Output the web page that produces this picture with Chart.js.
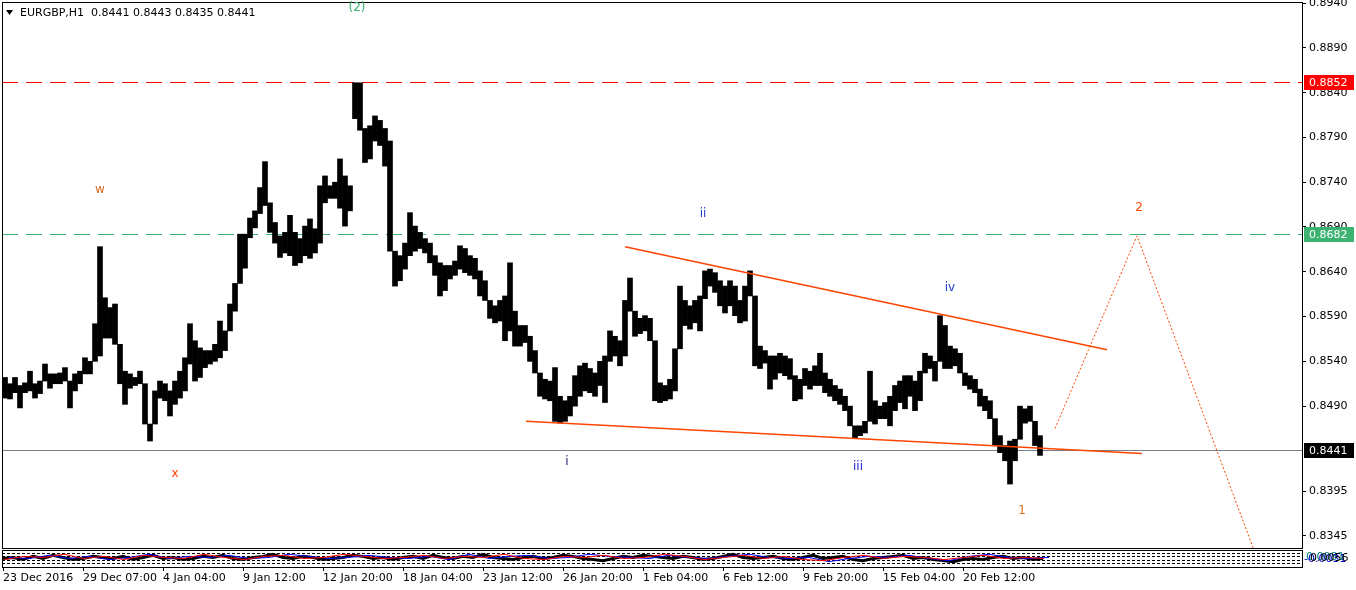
<!DOCTYPE html>
<html>
<head>
<meta charset="utf-8">
<script src="https://cdn.jsdelivr.net/npm/chart.js@4.4.1/dist/chart.umd.min.js"></script>
<style>
html, body { margin: 0; padding: 0; background: #fff; }
#wrap { position: relative; width: 1356px; height: 590px; overflow: hidden; }
canvas { position: absolute; left: 0; }
#main { top: 0; }
#ind { top: 549px; }
</style>
</head>
<body>
<div id="wrap">
  <canvas id="main" width="1356" height="549"></canvas>
  <canvas id="ind" width="1356" height="41"></canvas>
</div>
<script>
// EURGBP H1, one entry per 5 hourly bars (high / low of the group)
const hoursPerGroup = 5;
const highs = [
  0.8522,0.8515,0.8522,0.8513,0.8516,0.8529,0.8515,0.8518,0.8537,0.8526,
  0.8526,0.8527,0.8533,0.8518,0.8526,0.8529,0.8544,0.8540,0.8582,0.8668,
  0.8611,0.8600,0.8604,0.8559,0.8529,0.8526,0.8522,0.8529,0.8515,0.8470,
  0.8507,0.8518,0.8515,0.8507,0.8518,0.8529,0.8544,0.8582,0.8563,0.8555,
  0.8552,0.8552,0.8559,0.8585,0.8574,0.8604,0.8627,0.8682,0.8682,0.8700,
  0.8708,0.8734,0.8763,0.8717,0.8695,0.8680,0.8684,0.8703,0.8684,0.8677,
  0.8691,0.8699,0.8688,0.8736,0.8747,0.8736,0.8740,0.8766,0.8747,0.8736,
  0.8851,0.8851,0.8800,0.8803,0.8814,0.8809,0.8800,0.8786,0.8663,0.8658,
  0.8672,0.8706,0.8691,0.8684,0.8677,0.8672,0.8658,0.8650,0.8647,0.8647,
  0.8652,0.8669,0.8666,0.8658,0.8655,0.8641,0.8630,0.8608,0.8602,0.8608,
  0.8613,0.8650,0.8596,0.8580,0.8580,0.8568,0.8552,0.8527,0.8520,0.8518,
  0.8533,0.8501,0.8496,0.8501,0.8524,0.8535,0.8538,0.8532,0.8527,0.8540,
  0.8546,0.8574,0.8568,0.8563,0.8608,0.8633,0.8596,0.8588,0.8591,0.8588,
  0.8563,0.8516,0.8513,0.8520,0.8554,0.8624,0.8608,0.8602,0.8608,0.8613,
  0.8641,0.8643,0.8639,0.8630,0.8624,0.8630,0.8624,0.8608,0.8624,0.8641,
  0.8613,0.8557,0.8552,0.8546,0.8546,0.8549,0.8546,0.8543,0.8524,0.8520,
  0.8532,0.8529,0.8535,0.8549,0.8527,0.8520,0.8513,0.8509,0.8501,0.8490,
  0.8468,0.8468,0.8473,0.8529,0.8496,0.8490,0.8494,0.8501,0.8513,0.8518,
  0.8524,0.8524,0.8518,0.8529,0.8549,0.8546,0.8540,0.8591,0.8580,0.8557,
  0.8554,0.8549,0.8527,0.8524,0.8520,0.8509,0.8501,0.8496,0.8476,0.8457,
  0.8446,0.8451,0.8453,0.8490,0.8487,0.8490,0.8473,0.8457
];
const lows = [
  0.8499,0.8498,0.8505,0.8488,0.8505,0.8507,0.8499,0.8504,0.8518,0.8510,
  0.8515,0.8515,0.8518,0.8488,0.8507,0.8515,0.8526,0.8526,0.8540,0.8546,
  0.8566,0.8566,0.8559,0.8515,0.8492,0.8510,0.8513,0.8515,0.8470,0.8451,
  0.8470,0.8499,0.8496,0.8479,0.8492,0.8499,0.8507,0.8537,0.8518,0.8522,
  0.8533,0.8537,0.8540,0.8544,0.8552,0.8574,0.8596,0.8627,0.8644,0.8678,
  0.8689,0.8705,0.8714,0.8684,0.8672,0.8656,0.8661,0.8658,0.8647,0.8650,
  0.8658,0.8655,0.8661,0.8672,0.8717,0.8722,0.8722,0.8711,0.8691,0.8708,
  0.8811,0.8798,0.8762,0.8766,0.8786,0.8781,0.8758,0.8663,0.8624,0.8630,
  0.8643,0.8658,0.8663,0.8666,0.8661,0.8650,0.8636,0.8613,0.8619,0.8632,
  0.8636,0.8643,0.8639,0.8636,0.8632,0.8613,0.8608,0.8588,0.8583,0.8585,
  0.8563,0.8574,0.8557,0.8557,0.8561,0.8540,0.8527,0.8501,0.8498,0.8496,
  0.8473,0.8471,0.8473,0.8479,0.8490,0.8501,0.8507,0.8505,0.8501,0.8513,
  0.8494,0.8540,0.8546,0.8535,0.8546,0.8596,0.8568,0.8571,0.8574,0.8563,
  0.8496,0.8494,0.8496,0.8498,0.8507,0.8554,0.8580,0.8576,0.8583,0.8574,
  0.8610,0.8624,0.8617,0.8602,0.8594,0.8602,0.8591,0.8583,0.8585,0.8613,
  0.8535,0.8532,0.8538,0.8509,0.8520,0.8527,0.8524,0.8520,0.8496,0.8498,
  0.8513,0.8509,0.8513,0.8513,0.8505,0.8501,0.8496,0.8492,0.8485,0.8468,
  0.8454,0.8457,0.8460,0.8473,0.8470,0.8476,0.8476,0.8468,0.8485,0.8494,
  0.8487,0.8501,0.8485,0.8496,0.8527,0.8532,0.8518,0.8540,0.8532,0.8532,
  0.8535,0.8527,0.8513,0.8509,0.8505,0.8490,0.8485,0.8476,0.8446,0.8438,
  0.8429,0.8403,0.8429,0.8453,0.8471,0.8473,0.8446,0.8435
];

// price axis (MT4 style labels)
const priceTicks = [0.8940,0.8890,0.8840,0.8790,0.8740,0.8690,0.8640,0.8590,0.8540,0.8490,0.8395,0.8345];
const priceMin = 0.83316, priceMax = 0.89412;

// time axis: bar number -> label
const timeTicks = [0,80,160,240,320,400,480,560,640,720,800,880,960];
const timeLabels = ['23 Dec 2016','29 Dec 07:00','4 Jan 04:00','9 Jan 12:00','12 Jan 20:00','18 Jan 04:00',
  '23 Jan 12:00','26 Jan 20:00','1 Feb 04:00','6 Feb 12:00','9 Feb 20:00','15 Feb 04:00','20 Feb 12:00'];
const barMin = -1, barMax = 1299;

const levelRed = 0.8852, levelGreen = 0.8682, lastPrice = 0.8441;
const headerText = 'EURGBP,H1  0.8441 0.8443 0.8435 0.8441';

const upperTrend = [{x:622, y:0.8668}, {x:1104, y:0.8553}];
const lowerTrend = [{x:523, y:0.8473}, {x:1139, y:0.8437}];
const projection = [{x:1052, y:0.8465}, {x:1134, y:0.8680}, {x:1250, y:0.8332}];

const waveText  = ['(2)', 'w', 'x', 'i', 'ii', 'iii', 'iv', '1', '2'];
const waveBar   = [354, 97, 172, 564, 700, 855, 947, 1019, 1136];
const wavePrice = [0.8935, 0.8731, 0.8414, 0.8428, 0.8705, 0.8422, 0.8622, 0.8373, 0.8711];
const waveColor = ['#3cb371','#d2691e','#ff4500','#191970','#1e3ccf','#2020d0','#1e3ccf','#e07020','#ff4500'];

// lower indicator window (one value every 10 bars / 20 bars)
const indBlack = [8,9,7,10,8,11,9,7,8,10, 9,8,10,7,9,11,8,9,7,8, 10,9,11,8,7,9,10,12,9,8,
  10,9,7,8,9,11,10,8,9,7, 9,10,8,11,9,8,10,9,12,9, 8,7,9,10,8,9,11,10,8,7,
  6,8,10,9,11,10,9,8,10,9, 7,8,10,12,9,8,9,10,8,7, 9,11,8,9,10,7,6,8,9,10,
  11,8,9,7,6,5,7,8,7,9, 10,8,9,7,8];
const indRed = [7,10,9,12,8,10,7,11,9,8, 12,9,7,10,11,8,9,12,10,8, 9,11,8,10,9,12,8,7,10,9,
  11,8,9,12,10,7,9,11,8,10, 7,6,9,11,8,10,9,7,9,11, 8,9,8];
const indBlue = [9,8,11,8,10,7,9,12,8,10, 9,11,8,9,12,10,8,9,11,9, 8,10,7,12,8,10,11,8,9,12,
  10,9,8,11,9,8,10,12,9,8, 9,5,8,10,9,11,8,6,10,12, 9,8,9];
const indLevels = [13, 10, 7, 4];

const FONT = 'DejaVu Sans';
Chart.defaults.font.family = FONT;
Chart.defaults.font.size = 11;
Chart.defaults.color = '#000';

const priceBars = highs.map((h, i) => ({x: i * hoursPerGroup + 2, y: [lows[i], h]}));

function hLine(ctx, area, y, color, dash) {
  ctx.save();
  ctx.strokeStyle = color;
  ctx.lineWidth = 1;
  ctx.setLineDash(dash);
  ctx.beginPath();
  ctx.moveTo(area.left, Math.round(y) + 0.5);
  ctx.lineTo(area.right, Math.round(y) + 0.5);
  ctx.stroke();
  ctx.restore();
}

function priceBox(ctx, area, y, bg, text) {
  ctx.save();
  ctx.fillStyle = bg;
  ctx.fillRect(area.right + 2, Math.round(y) - 7, 50, 15);
  ctx.fillStyle = '#fff';
  ctx.font = '11px ' + FONT;
  ctx.textAlign = 'left';
  ctx.textBaseline = 'middle';
  ctx.fillText(text, area.right + 7, Math.round(y) + 1);
  ctx.restore();
}

const mainPlugin = {
  id: 'mtMain',
  beforeDatasetsDraw(chart) {
    const ctx = chart.ctx, a = chart.chartArea, ys = chart.scales.y;
    hLine(ctx, a, ys.getPixelForValue(levelRed), '#ff0000', [16, 8]);
    hLine(ctx, a, ys.getPixelForValue(levelGreen), '#3cb371', [16, 8]);
    hLine(ctx, a, ys.getPixelForValue(lastPrice), '#778088', []);
  },
  afterDraw(chart) {
    const ctx = chart.ctx, a = chart.chartArea, xs = chart.scales.x, ys = chart.scales.y;
    ctx.save();
    ctx.strokeStyle = '#000';
    ctx.lineWidth = 1;
    ctx.strokeRect(a.left + 0.5, a.top + 0.5, a.right - a.left, a.bottom - a.top);

    // header
    ctx.fillStyle = '#000';
    ctx.beginPath();
    ctx.moveTo(6, 10); ctx.lineTo(13, 10); ctx.lineTo(9.5, 15); ctx.closePath();
    ctx.fill();
    ctx.font = '11px ' + FONT;
    ctx.textAlign = 'left';
    ctx.textBaseline = 'middle';
    ctx.fillText(headerText, 20, 13);

    // wave labels
    ctx.font = '12px ' + FONT;
    ctx.textAlign = 'center';
    waveText.forEach((t, i) => {
      ctx.fillStyle = waveColor[i];
      ctx.fillText(t, xs.getPixelForValue(waveBar[i]), ys.getPixelForValue(wavePrice[i]));
    });
    ctx.restore();

    priceBox(ctx, a, ys.getPixelForValue(levelRed), '#ff0000', levelRed.toFixed(4));
    priceBox(ctx, a, ys.getPixelForValue(levelGreen), '#3cb371', levelGreen.toFixed(4));
    priceBox(ctx, a, ys.getPixelForValue(lastPrice), '#000000', lastPrice.toFixed(4));
  }
};

new Chart(document.getElementById('main').getContext('2d'), {
  type: 'bar',
  data: {
    datasets: [
      {type: 'bar', data: priceBars, backgroundColor: '#000', borderWidth: 0, barThickness: 5, grouped: false, order: 3},
      {type: 'line', data: upperTrend, borderColor: '#ff4500', borderWidth: 1.5, pointRadius: 0, fill: false, order: 1},
      {type: 'line', data: lowerTrend, borderColor: '#ff4500', borderWidth: 1.5, pointRadius: 0, fill: false, order: 1},
      {type: 'line', data: projection, borderColor: '#ff4500', borderWidth: 1, borderDash: [2, 2], pointRadius: 0, fill: false, order: 1}
    ]
  },
  options: {
    responsive: false,
    animation: false,
    devicePixelRatio: 1,
    layout: {padding: {left: 2, right: 0, top: 2, bottom: 1}},
    plugins: {legend: {display: false}, tooltip: {enabled: false}},
    scales: {
      x: {type: 'linear', display: false, min: barMin, max: barMax, offset: false},
      y: {
        position: 'right', min: priceMin, max: priceMax,
        afterBuildTicks(s) { s.ticks = priceTicks.map(v => ({value: v})); },
        afterFit(s) { s.width = 54; s.paddingTop = 0; s.paddingBottom = 0; },
        grid: {drawOnChartArea: false, drawTicks: true, tickLength: 4, color: '#000'},
        border: {display: true, color: '#000'},
        ticks: {padding: 3, color: '#000', font: {size: 11}, callback: v => v.toFixed(4)}
      }
    }
  },
  plugins: [mainPlugin]
});

const indPlugin = {
  id: 'mtInd',
  beforeDatasetsDraw(chart) {
    const ctx = chart.ctx, a = chart.chartArea, ys = chart.scales.y;
    indLevels.forEach(v => hLine(ctx, a, ys.getPixelForValue(v), '#000', [3, 2]));
  },
  afterDraw(chart) {
    const ctx = chart.ctx, a = chart.chartArea;
    ctx.save();
    ctx.strokeStyle = '#000';
    ctx.lineWidth = 1;
    ctx.strokeRect(a.left + 0.5, a.top + 0.5, a.right - a.left, a.bottom - a.top);
    ctx.font = '11px ' + FONT;
    ctx.textBaseline = 'middle';
    ctx.textAlign = 'left';
    ctx.fillStyle = '#008080';
    ctx.fillText('0.0081', a.right + 4, 8);
    ctx.fillStyle = '#0000cd';
    ctx.fillText('-0.0031', a.right + 2, 10);
    ctx.fillStyle = '#000';
    ctx.fillText('0.0056', a.right + 8, 9);
    ctx.restore();
  }
};

new Chart(document.getElementById('ind').getContext('2d'), {
  type: 'line',
  data: {
    datasets: [
      {data: indRed.map((v, i) => ({x: i * 20 + 1, y: v})), borderColor: '#ff0000', borderWidth: 1, pointRadius: 0},
      {data: indBlue.map((v, i) => ({x: i * 20 + 6, y: v})), borderColor: '#0000ff', borderWidth: 1, pointRadius: 0},
      {data: indBlack.map((v, i) => ({x: i * 10, y: v})), borderColor: '#000', borderWidth: 3, pointRadius: 0}
    ]
  },
  options: {
    responsive: false,
    animation: false,
    devicePixelRatio: 1,
    layout: {padding: {left: 2, right: 0, top: 1, bottom: 0}},
    plugins: {legend: {display: false}, tooltip: {enabled: false}},
    scales: {
      x: {
        type: 'linear', min: barMin, max: barMax, offset: false,
        afterBuildTicks(s) { s.ticks = timeTicks.map(v => ({value: v})); },
        afterFit(s) { s.height = 23; s.paddingLeft = 0; s.paddingRight = 0; },
        grid: {drawOnChartArea: false, drawTicks: true, tickLength: 4, color: '#000'},
        border: {display: true, color: '#000'},
        ticks: {
          autoSkip: false, maxRotation: 0, align: 'start', padding: 1, color: '#000', font: {size: 11},
          callback: (v) => timeLabels[timeTicks.indexOf(v)]
        }
      },
      y: {
        position: 'right', min: 0, max: 16,
        afterFit(s) { s.width = 54; s.paddingTop = 0; s.paddingBottom = 0; },
        grid: {display: false},
        border: {display: true, color: '#000'},
        ticks: {display: false}
      }
    }
  },
  plugins: [indPlugin]
});
</script>
</body>
</html>
